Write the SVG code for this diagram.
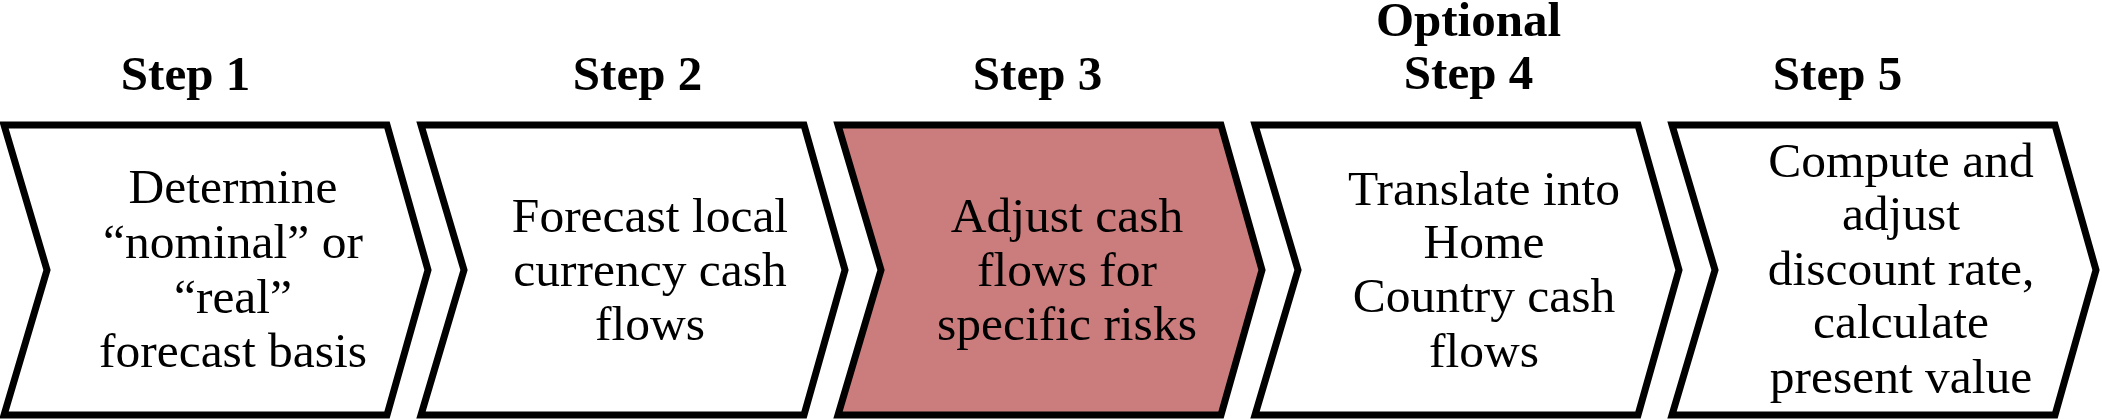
<svg xmlns="http://www.w3.org/2000/svg" width="2102" height="419" viewBox="0 0 2102 419">
<style>
.chev{fill:#ffffff;stroke:#000000;stroke-width:7;stroke-linejoin:miter}
.hl{fill:#CB7D7D}
.step{font-family:"Liberation Serif","Times New Roman",serif;font-weight:bold;font-size:49px;text-anchor:middle;fill:#000}
.body{font-family:"Liberation Serif","Times New Roman",serif;font-size:49.5px;text-anchor:middle;fill:#000}
</style>
<rect width="2102" height="419" fill="#ffffff"/>
<g id="connectors"></g>
<g id="step1">
<polygon class="chev" points="4,125 387,125 428,270 387,415 4,415 47,270"/>
<text class="step" x="185.5" y="90">Step 1</text>
<text class="body" x="233" y="203">Determine</text>
<text class="body" x="233" y="258">“nominal” or</text>
<text class="body" x="233" y="313">“real”</text>
<text class="body" x="233" y="367">forecast basis</text>
</g>
<g id="step2">
<polygon class="chev" points="421,125 804,125 845,270 804,415 421,415 464,270"/>
<text class="step" x="637.5" y="90">Step 2</text>
<text class="body" x="650" y="232">Forecast local</text>
<text class="body" x="650" y="286">currency cash</text>
<text class="body" x="650" y="340">flows</text>
</g>
<g id="step3">
<polygon class="chev hl" points="838,125 1221,125 1262,270 1221,415 838,415 881,270"/>
<text class="step" x="1037.5" y="90">Step 3</text>
<text class="body" x="1067" y="232">Adjust cash</text>
<text class="body" x="1067" y="286">flows for</text>
<text class="body" x="1067" y="340">specific risks</text>
</g>
<g id="step4">
<polygon class="chev" points="1255,125 1638,125 1679,270 1638,415 1255,415 1298,270"/>
<text class="step" x="1468.5" y="36">Optional</text>
<text class="step" x="1468.5" y="89">Step 4</text>
<text class="body" x="1484" y="205">Translate into</text>
<text class="body" x="1484" y="258">Home</text>
<text class="body" x="1484" y="312">Country cash</text>
<text class="body" x="1484" y="367">flows</text>
</g>
<g id="step5">
<polygon class="chev" points="1672,125 2055,125 2096,270 2055,415 1672,415 1715,270"/>
<text class="step" x="1837.5" y="90">Step 5</text>
<text class="body" x="1901" y="177">Compute and</text>
<text class="body" x="1901" y="230">adjust</text>
<text class="body" x="1901" y="285">discount rate,</text>
<text class="body" x="1901" y="338">calculate</text>
<text class="body" x="1901" y="393">present value</text>
</g>
</svg>
